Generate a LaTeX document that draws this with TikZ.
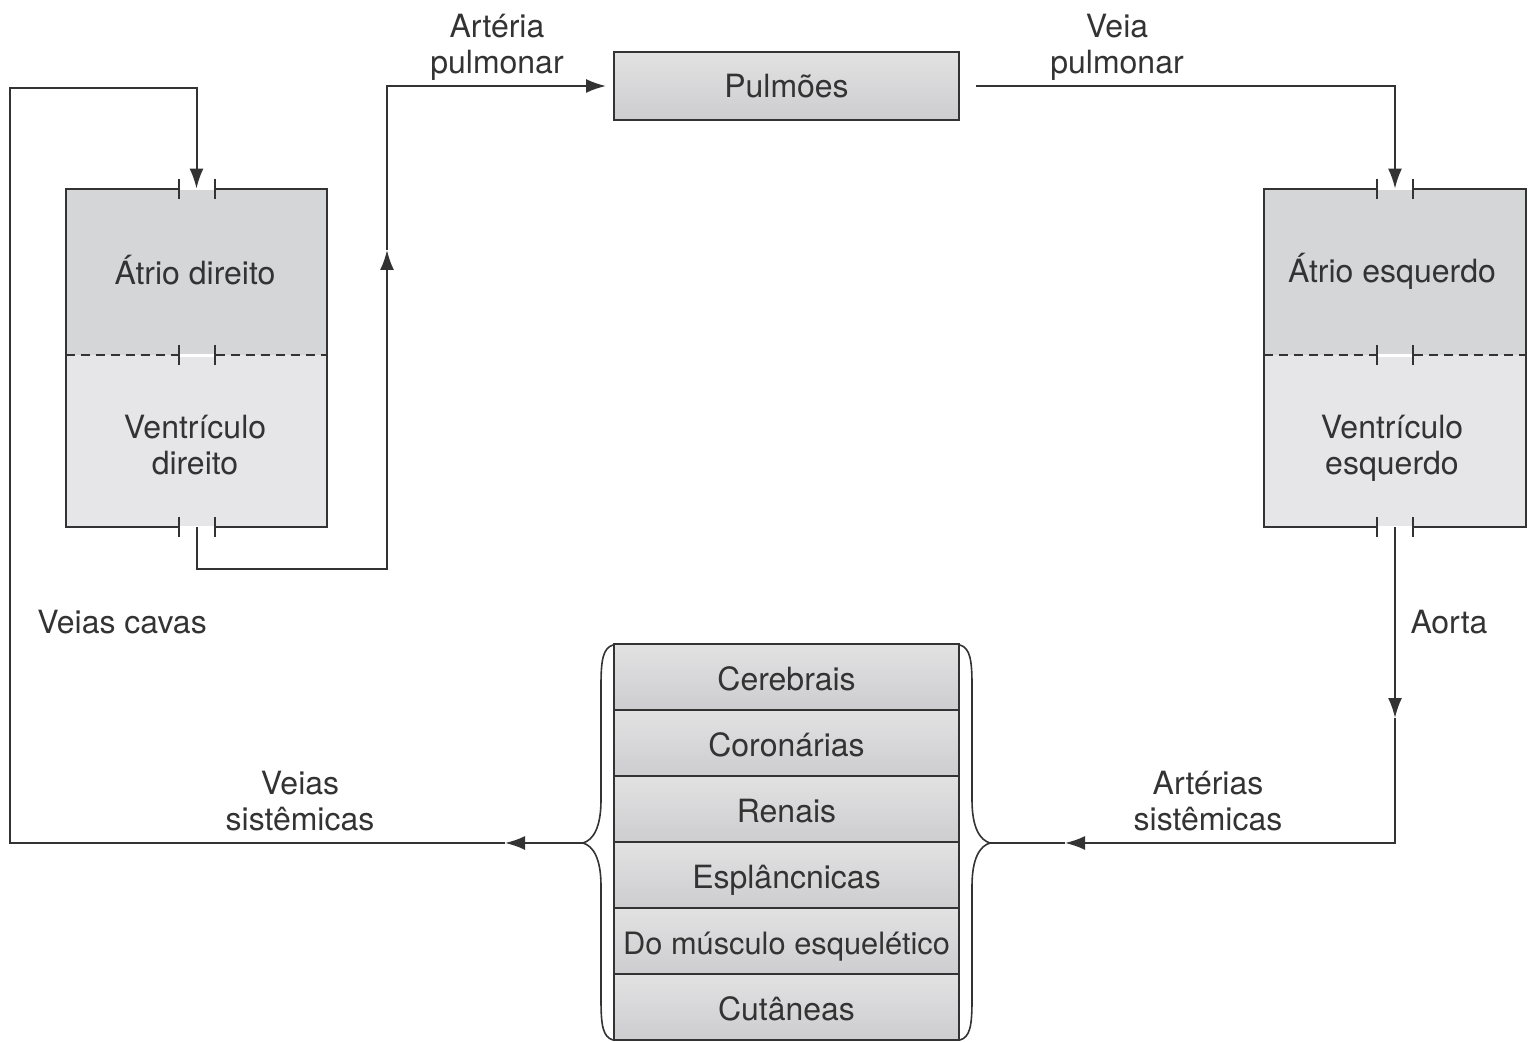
\documentclass[tikz,border=0pt]{standalone}
\usepackage{fontspec}
\setmainfont{TeX Gyre Heros}
\usetikzlibrary{arrows.meta}
\definecolor{ink}{HTML}{333333}
\definecolor{atriumfill}{HTML}{D5D6D8}
\definecolor{ventfill}{HTML}{E6E6E8}
\definecolor{boxtop}{HTML}{E2E2E3}
\definecolor{boxbot}{HTML}{CDCDCF}
\newcommand\valvemark[1]{%
  \draw[white,line width=1.6pt] (#1) ++(-17,0) -- ++(34,0);
  \draw[ln] (#1) ++(-18,-10) -- ++(0,20) (#1) ++(18,-10) -- ++(0,20);}
\begin{document}
\begin{tikzpicture}[x=0.5pt,y=-0.5pt,
  ln/.style={draw=ink,line width=1pt},
  flow/.style={ln,-{Latex[length=10pt,width=7pt]}},
  txt/.style={text=ink,font=\fontsize{16}{18}\selectfont},
  lbl/.style={txt,align=center,inner sep=0pt},
  atrium/.style={fill=atriumfill,minimum width=130.5pt,minimum height=83pt,inner sep=0pt},
  vent/.style={atrium,fill=ventfill,minimum height=86pt},
  graybox/.style={ln,txt,top color=boxtop,bottom color=boxbot,minimum width=172.5pt,
    inner sep=0pt,text height=15pt,text depth=3.5pt},
  organ/.style={graybox,minimum height=33pt,text height=17pt},
  brace/.style={ln,line width=0.8pt}]
\useasboundingbox (0,0) rectangle (1531,1042);

% heart chambers
\node[atrium] (ra) at (196.5,272) {};
\node[vent]   (rv) at (196.5,441) {};
\node[atrium] (la) at (1395,272) {};
\node[vent]   (lv) at (1395,441) {};
\draw[ln] (ra.north west) rectangle (rv.south east);
\draw[ln] (la.north west) rectangle (lv.south east);
\draw[ln,dash pattern=on 4.5pt off 3pt] (ra.south west) -- (ra.south east);
\draw[ln,dash pattern=on 4.5pt off 3pt] (la.south west) -- (la.south east);
\valvemark{ra.north}\valvemark{ra.south}\valvemark{rv.south}
\valvemark{la.north}\valvemark{la.south}\valvemark{lv.south}
\node[lbl] (ratxt) at (195,270)  {Átrio direito};
\node[lbl] (rvtxt) at (195,445)  {Ventrículo\\direito};
\node[lbl] (latxt) at (1392,271) {Átrio esquerdo};
\node[lbl] (lvtxt) at (1392,448) {Ventrículo\\esquerdo};

% lungs
\node[graybox,minimum height=34pt] (pulm) at (786.5,86) {Pulmões};

% systemic circulation
\node[organ] (o1) at (786.5,677)  {Cerebrais};
\node[organ] (o2) at (786.5,743)  {Coronárias};
\node[organ] (o3) at (786.5,809)  {Renais};
\node[organ] (o4) at (786.5,875)  {Esplâncnicas};
\node[organ,font=\fontsize{15.4}{18}\selectfont] (o5) at (786.5,941) {Do músculo esquelético};
\node[organ] (o6) at (786.5,1007) {Cutâneas};

\coordinate (lbt) at (583,843);
\coordinate (rbt) at (990,843);
\draw[brace] (613,645) .. controls (603,648) and (601,660) .. (601,685)
  -- (601,800) .. controls (601,828) and (593,840) .. (lbt)
  .. controls (593,846) and (601,858) .. (601,886)
  -- (601,1000) .. controls (601,1026) and (603,1037) .. (613,1040);
\draw[brace] (960,645) .. controls (970,648) and (972,660) .. (972,685)
  -- (972,800) .. controls (972,828) and (980,840) .. (rbt)
  .. controls (980,846) and (972,858) .. (972,886)
  -- (972,1000) .. controls (972,1026) and (970,1037) .. (960,1040);

% connectors
\coordinate (paup) at (387,250);
\coordinate (aoarrow) at (1395,718);
\coordinate (artarrow) at (1065,843);
\coordinate (vnarrow) at (505,843);
\coordinate (vcb) at (10,843);
\coordinate (vct) at (10,88);

\draw[flow] (rv.south) -- ++(0,42) -| (paup);
\draw[flow,shorten >=3.5pt] (paup) |- (pulm.west);
\draw[flow,shorten <=8pt] (pulm.east) -| (la.north);
\draw[flow] (lv.south) -- (aoarrow);
\draw[flow] (aoarrow) |- (artarrow);
\draw[ln] (artarrow) -- (rbt);
\draw[flow] (lbt) -- (vnarrow);
\draw[flow] (vnarrow) -- (vcb) -- (vct) -| (ra.north);

% labels
\node[lbl] (lpa) at (497,47)   {Artéria\\pulmonar};
\node[lbl] (lpv) at (1117,47)  {Veia\\pulmonar};
\node[lbl] (lvc) at (122,622)  {Veias cavas};
\node[lbl] (lao) at (1449,622) {Aorta};
\node[lbl] (lvs) at (300,801)  {Veias\\sistêmicas};
\node[lbl] (las) at (1208,801) {Artérias\\sistêmicas};
\end{tikzpicture}
\end{document}
